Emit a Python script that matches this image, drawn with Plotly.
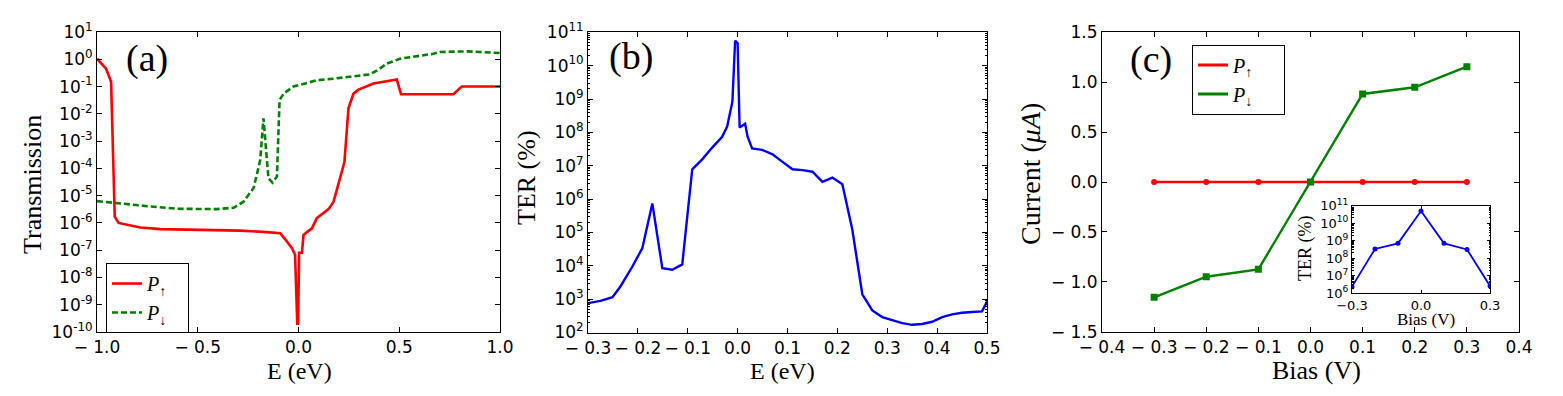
import plotly.graph_objects as go

# ---------------- data ----------------
# Panel (a): transmission vs energy
E_up = [-1.0, -0.955, -0.93, -0.912, -0.893, -0.785, -0.686, -0.488, -0.289, -0.157,
        -0.091, -0.066, -0.033, -0.017, -0.006, -0.002, 0.003, 0.017, 0.025, 0.045,
        0.066, 0.091, 0.149, 0.174, 0.228, 0.248, 0.273, 0.298, 0.372, 0.488,
        0.509, 0.769, 0.81, 1.0]
T_up = [1.05, 0.45, 0.15, 1.7e-6, 1.0e-6, 6.8e-7, 5.9e-7, 5.5e-7, 5.2e-7, 4.6e-7,
        4.2e-7, 2.5e-7, 1.2e-7, 6.8e-8, 2e-10, 2e-10, 8e-8, 8e-8, 3.6e-7, 4.8e-7,
        6.2e-7, 1.5e-6, 3.2e-6, 6e-6, 1.7e-4, 0.016, 0.055, 0.077, 0.13, 0.18,
        0.052, 0.052, 0.10, 0.10]

E_dn = [-1.0, -0.9, -0.735, -0.6, -0.405, -0.322, -0.273, -0.223, -0.19, -0.174,
        -0.165, -0.149, -0.129, -0.107, -0.094, -0.074, -0.025, 0.091, 0.174, 0.355,
        0.397, 0.438, 0.504, 0.67, 0.702, 0.835, 1.0]
T_dn = [6.3e-6, 5.2e-6, 4e-6, 3.3e-6, 3.2e-6, 3.6e-6, 6e-6, 1.9e-5, 2e-4, 6.8e-3,
        1.1e-3, 4.3e-5, 3e-5, 5e-5, 0.032, 0.055, 0.1, 0.17, 0.195, 0.28,
        0.42, 0.69, 1.05, 1.6, 1.85, 1.95, 1.7]

# Panel (b): TER vs energy
E_b = [-0.3, -0.275, -0.251, -0.235, -0.211, -0.191, -0.171, -0.151, -0.131, -0.111,
       -0.091, -0.071, -0.051, -0.031, -0.021, -0.0105, -0.005, 0.0, 0.004, 0.009,
       0.015, 0.02, 0.029, 0.049, 0.07, 0.09, 0.11, 0.13, 0.15, 0.17,
       0.19, 0.21, 0.23, 0.25, 0.27, 0.29, 0.31, 0.33, 0.35, 0.37,
       0.39, 0.41, 0.43, 0.45, 0.47, 0.49, 0.5]
TER_b = [7.6e2, 8.9e2, 1.15e3, 2.4e3, 9.5e3, 3.4e4, 7.4e5, 8.5e3, 7.6e3, 1.1e4,
         7.8e6, 1.55e7, 3.5e7, 7.4e7, 1.5e8, 8.3e8, 5.6e10, 4.7e10, 1.4e8, 1.6e8,
         1.8e8, 7.4e7, 3.3e7, 3.0e7, 2.2e7, 1.3e7, 7.8e6, 7.4e6, 6.6e6, 3.3e6,
         4.4e6, 2.8e6, 1.2e5, 1.4e3, 4.6e2, 2.9e2, 2.3e2, 1.9e2, 1.7e2, 1.8e2,
         2.1e2, 2.9e2, 3.5e2, 3.9e2, 4.1e2, 4.3e2, 8.5e2]

# Panel (c): current vs bias, inset TER vs bias
bias = [-0.3, -0.2, -0.1, 0.0, 0.1, 0.2, 0.3]
I_up = [0.0, 0.0, 0.0, 0.0, 0.0, 0.0, 0.0]
I_dn = [-1.156, -0.949, -0.875, 0.0, 0.882, 0.949, 1.156]
TER_inset = [2.4e6, 3.4e8, 7.1e8, 5e10, 7.1e8, 3.2e8, 2.6e6]

# tick definitions
a_xticks = [-1.0, -0.5, 0.0, 0.5, 1.0]
a_yexp = list(range(-10, 2))
b_xticks = [-0.3, -0.2, -0.1, 0.0, 0.1, 0.2, 0.3, 0.4, 0.5]
b_yexp = list(range(2, 12))
c_xticks = [-0.4, -0.3, -0.2, -0.1, 0.0, 0.1, 0.2, 0.3, 0.4]
c_yticks = [-1.5, -1.0, -0.5, 0.0, 0.5, 1.0, 1.5]
in_xticks = [-0.3, 0.0, 0.3]
in_yexp = list(range(6, 12))

# ---------------- figure ----------------
W, H = 1563, 396
OFF = 8  # page body margin of the html page
RED, GREEN, BLUE = "#ff0000", "#008000", "#0000ff"
SANS = "DejaVu Sans"
SERIF = "Liberation Serif"
PAD_A = "\u00a0" * 3
PAD_C = "\u00a0" * 5


def px_x(p):
    return (p - OFF) / W


def px_y(p):
    return 1 - (p - OFF) / H


def lin_text(vals):
    out = []
    for v in vals:
        s = "%.1f" % abs(v)
        out.append(("\u2212 " + s) if v < 0 else s)
    return out


fig = go.Figure()

# (a)
fig.add_trace(go.Scatter(x=E_up, y=T_up, mode="lines", line=dict(color=RED, width=2.6),
                         name="<i>P</i><sub>↑</sub>" + PAD_A, xaxis="x", yaxis="y", legend="legend"))
fig.add_trace(go.Scatter(x=E_dn, y=T_dn, mode="lines", line=dict(color=GREEN, width=2.6, dash="6px,3px"),
                         name="<i>P</i><sub>↓</sub>" + PAD_A, xaxis="x", yaxis="y", legend="legend"))
# (b)
fig.add_trace(go.Scatter(x=E_b, y=TER_b, mode="lines", line=dict(color=BLUE, width=2.4),
                         showlegend=False, xaxis="x2", yaxis="y2"))
# (c)
fig.add_trace(go.Scatter(x=bias, y=I_up, mode="lines+markers", line=dict(color=RED, width=2.4),
                         marker=dict(symbol="circle", size=6, color=RED),
                         showlegend=False, xaxis="x3", yaxis="y3"))
fig.add_trace(go.Scatter(x=bias, y=I_dn, mode="lines+markers", line=dict(color=GREEN, width=2.4),
                         marker=dict(symbol="square", size=7, color=GREEN),
                         showlegend=False, xaxis="x3", yaxis="y3"))
fig.add_trace(go.Scatter(x=[None], y=[None], mode="lines", line=dict(color=RED, width=3),
                         name="<i>P</i><sub>↑</sub>" + PAD_C, xaxis="x3", yaxis="y3", legend="legend2"))
fig.add_trace(go.Scatter(x=[None], y=[None], mode="lines", line=dict(color=GREEN, width=3),
                         name="<i>P</i><sub>↓</sub>" + PAD_C, xaxis="x3", yaxis="y3", legend="legend2"))
# inset
fig.add_trace(go.Scatter(x=bias, y=TER_inset, mode="lines+markers", line=dict(color=BLUE, width=1.8),
                         marker=dict(symbol="circle", size=5, color=BLUE),
                         showlegend=False, xaxis="x4", yaxis="y4"))


def ax(domain, anchor, size=17, **kw):
    d = dict(domain=domain, anchor=anchor, automargin=False, showline=True, linecolor="black",
             linewidth=1, mirror="ticks", ticks="inside", ticklen=5, tickcolor="black", tickwidth=1,
             showgrid=False, zeroline=False,
             tickfont=dict(family=SANS, size=size, color="black"))
    d.update(kw)
    return d


def logticks(exps):
    return [10.0 ** e for e in exps], ["10<sup>%d</sup>" % e for e in exps]


ay_v, ay_t = logticks(a_yexp)
by_v, by_t = logticks(b_yexp)
iy_v, iy_t = logticks(in_yexp)

dom_a = [px_x(97), px_x(500)]
dom_b = [px_x(588), px_x(987)]
dom_c = [px_x(1102), px_x(1519)]
dom_i = [px_x(1352), px_x(1490)]

fig.update_layout(
    template="none",
    width=W, height=H, margin=dict(l=0, r=0, t=0, b=0, pad=0), autosize=False,
    paper_bgcolor="white", plot_bgcolor="white",
    xaxis=ax(dom_a, "y", range=[-1, 1], tickvals=a_xticks, ticktext=lin_text(a_xticks)),
    yaxis=ax([px_y(332), px_y(32)], "x", type="log", range=[-10, 1], tickvals=ay_v, ticktext=ay_t),
    xaxis2=ax(dom_b, "y2", range=[-0.3, 0.5], tickvals=b_xticks, ticktext=lin_text(b_xticks)),
    yaxis2=ax([px_y(332.5), px_y(32.3)], "x2", type="log", range=[2, 11], tickvals=by_v, ticktext=by_t,
              minor=dict(ticks="inside", ticklen=2, tickcolor="black", dtick="D1")),
    xaxis3=ax(dom_c, "y3", range=[-0.4, 0.4], tickvals=c_xticks, ticktext=lin_text(c_xticks)),
    yaxis3=ax([px_y(331.7), px_y(32.3)], "x3", range=[-1.5, 1.5], tickvals=c_yticks,
              ticktext=lin_text(c_yticks)),
    xaxis4=ax(dom_i, "y4", size=13, range=[-0.3, 0.3], tickvals=in_xticks,
              ticktext=["\u22120.3", "0.0", "0.3"], ticklen=3),
    yaxis4=ax([px_y(293.3), px_y(205.7)], "x4", size=13, type="log", range=[6, 11], tickvals=iy_v,
              ticktext=iy_t, ticklen=3,
              minor=dict(ticks="inside", ticklen=1.5, tickcolor="black", dtick="D1")),
    legend=dict(x=px_x(106), y=px_y(263), xanchor="left", yanchor="top",
                bordercolor="black", borderwidth=1, bgcolor="white",
                font=dict(family=SERIF, size=20, color="black"), itemwidth=30, tracegroupgap=0),
    legend2=dict(x=px_x(1192), y=px_y(44.5), xanchor="left", yanchor="top",
                 bordercolor="black", borderwidth=1, bgcolor="white",
                 font=dict(family=SERIF, size=20, color="black"), itemwidth=30, tracegroupgap=0),
)


def note(text, x, y, size, angle=0, family=SERIF):
    fig.add_annotation(text=text, x=px_x(x), y=px_y(y), xref="paper", yref="paper",
                       xanchor="center", yanchor="middle", showarrow=False, textangle=angle,
                       font=dict(family=family, size=size, color="black"))


# panel labels
note("(a)", 147, 58, 38)
note("(b)", 631, 57, 38)
note("(c)", 1151, 60, 38)
# axis titles
note("Transmission", 32, 185, 26, -90)
note("E (eV)", 299, 371, 24)
note("TER (%)", 526, 178, 26, -90)
note("E (eV)", 782, 371, 24)
note("Current (<i>μA</i>)", 1031, 174, 28, -90)
note("Bias (V)", 1316, 370, 26)
note("TER (%)", 1305, 249, 18, -90)
note("Bias (V)", 1426, 319, 17)

fig.write_html("out.html")
